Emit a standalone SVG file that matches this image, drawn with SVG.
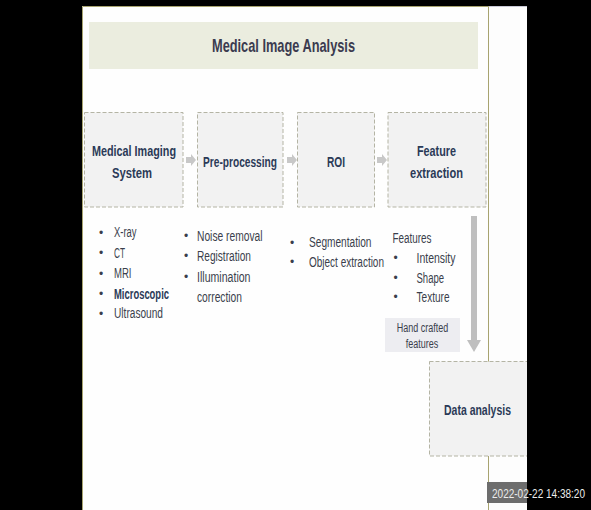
<svg xmlns="http://www.w3.org/2000/svg" width="591" height="510" viewBox="0 0 591 510">
<style>
.box{fill:#f2f2f2;stroke:#b4b4a4;stroke-width:1;stroke-dasharray:4 2}
.lbl{font-family:"Liberation Sans",Arial,sans-serif;font-weight:bold;font-size:15.5px;fill:#2b3a57;text-anchor:middle}
.txt{font-family:"Liberation Sans",Arial,sans-serif;font-size:14px;fill:#3a3e4c}
.bul{font-family:"Liberation Sans",Arial,sans-serif;font-size:12px;fill:#3a3e4c;text-anchor:middle}
.arr{fill:#c8c8c8}
</style>
<rect x="0" y="0" width="591" height="510" fill="#000"/>
<rect x="82" y="6" width="406" height="504" fill="#fefefe"/>
<rect x="488" y="6" width="39" height="504" fill="#fdfdfd"/>
<line x1="488" y1="6.5" x2="527" y2="6.5" stroke="#c9c9d6" stroke-width="1"/>
<path d="M82.5 510 V6.5 H488.5 V510" fill="none" stroke="#a8a470" stroke-width="1"/>

<g id="title">
<rect x="89" y="22" width="389" height="47" fill="#ebeddf"/>
<text x="283.5" y="52" style="font-family:'Liberation Sans',Arial,sans-serif;font-weight:bold;font-size:19px;fill:#3b3b4f" text-anchor="middle" textLength="143" lengthAdjust="spacingAndGlyphs">Medical Image Analysis</text>
</g>

<g id="connectors">
<path class="arr" d="M186 157 H191 V154 L196 160 L191 166 V163 H186 Z"/>
<path class="arr" d="M287 157 H292 V154 L297 160 L292 166 V163 H287 Z"/>
<path class="arr" d="M377 157 H382 V154 L387 160 L382 166 V163 H377 Z"/>
<path d="M471 216 H477 V340 H481 L474 352 L467 340 H471 Z" fill="#bfbfbf"/>
</g>

<g id="medical-imaging-system">
<rect class="box" x="84.5" y="112.5" width="98.5" height="94.5"/>
<text class="lbl" x="134" y="155.5" textLength="84" lengthAdjust="spacingAndGlyphs">Medical Imaging</text>
<text class="lbl" x="132" y="177.5" textLength="40" lengthAdjust="spacingAndGlyphs">System</text>
</g>

<g id="pre-processing">
<rect class="box" x="197.5" y="112.5" width="85.5" height="94.5"/>
<text class="lbl" x="240" y="166.5" textLength="74" lengthAdjust="spacingAndGlyphs">Pre-processing</text>
</g>

<g id="roi">
<rect class="box" x="297.5" y="112.5" width="77" height="94.5"/>
<text class="lbl" x="336" y="166.5" textLength="18" lengthAdjust="spacingAndGlyphs">ROI</text>
</g>

<g id="feature-extraction">
<rect class="box" x="388" y="112.5" width="98" height="94.5"/>
<text class="lbl" x="436.5" y="155.5" textLength="39" lengthAdjust="spacingAndGlyphs">Feature</text>
<text class="lbl" x="436.5" y="177.5" textLength="53" lengthAdjust="spacingAndGlyphs">extraction</text>
</g>

<g id="imaging-list">
<text class="bul" x="101" y="236.5">•</text>
<text class="txt" x="114" y="237" textLength="22.5" lengthAdjust="spacingAndGlyphs">X-ray</text>
<text class="bul" x="101" y="257">•</text>
<text class="txt" x="114" y="257.5" textLength="11" lengthAdjust="spacingAndGlyphs">CT</text>
<text class="bul" x="101" y="277.5">•</text>
<text class="txt" x="114" y="278" textLength="17.5" lengthAdjust="spacingAndGlyphs">MRI</text>
<text class="bul" x="101" y="298">•</text>
<text class="txt" x="114" y="298.5" textLength="55" lengthAdjust="spacingAndGlyphs" style="font-weight:bold;fill:#2b3a57">Microscopic</text>
<text class="bul" x="101" y="317.5">•</text>
<text class="txt" x="114" y="318" textLength="49" lengthAdjust="spacingAndGlyphs">Ultrasound</text>
</g>

<g id="preprocessing-list">
<text class="bul" x="186" y="240">•</text>
<text class="txt" x="197" y="240.5" textLength="65.5" lengthAdjust="spacingAndGlyphs">Noise removal</text>
<text class="bul" x="186" y="260">•</text>
<text class="txt" x="197" y="260.5" textLength="54" lengthAdjust="spacingAndGlyphs">Registration</text>
<text class="bul" x="186" y="281">•</text>
<text class="txt" x="197" y="281.5" textLength="53.5" lengthAdjust="spacingAndGlyphs">Illumination</text>
<text class="txt" x="197" y="301.5" textLength="45" lengthAdjust="spacingAndGlyphs">correction</text>
</g>

<g id="roi-list">
<text class="bul" x="292" y="246.5">•</text>
<text class="txt" x="309" y="247" textLength="62.5" lengthAdjust="spacingAndGlyphs">Segmentation</text>
<text class="bul" x="292" y="266">•</text>
<text class="txt" x="309" y="266.5" textLength="75" lengthAdjust="spacingAndGlyphs">Object extraction</text>
</g>

<g id="features-list">
<text class="txt" x="392.5" y="242.5" textLength="39" lengthAdjust="spacingAndGlyphs">Features</text>
<text class="bul" x="395.5" y="262">•</text>
<text class="txt" x="416.5" y="262.5" textLength="39" lengthAdjust="spacingAndGlyphs">Intensity</text>
<text class="bul" x="395.5" y="282">•</text>
<text class="txt" x="416.5" y="282.5" textLength="27.5" lengthAdjust="spacingAndGlyphs">Shape</text>
<text class="bul" x="395.5" y="301">•</text>
<text class="txt" x="416.5" y="301.5" textLength="33" lengthAdjust="spacingAndGlyphs">Texture</text>
</g>

<g id="hand-crafted-features">
<rect x="385" y="318" width="75" height="34" fill="#ededf1"/>
<text class="txt" x="422.5" y="331.5" text-anchor="middle" style="font-size:12.5px" textLength="51.5" lengthAdjust="spacingAndGlyphs">Hand crafted</text>
<text class="txt" x="422" y="347.5" text-anchor="middle" style="font-size:12.5px" textLength="32.5" lengthAdjust="spacingAndGlyphs">features</text>
</g>

<g id="data-analysis">
<rect class="box" x="429.5" y="361.5" width="102" height="94.5"/>
<text class="lbl" x="477.5" y="415" textLength="67" lengthAdjust="spacingAndGlyphs">Data analysis</text>
</g>

<rect x="527" y="0" width="64" height="510" fill="#000"/>
<rect x="82" y="0" width="445" height="6" fill="#000"/>

<g id="timestamp">
<rect x="487" y="482" width="40" height="21" fill="#6d6d6d"/>
<text x="492" y="498" style="font-family:'Liberation Sans',Arial,sans-serif;font-size:13px;fill:#ececec" textLength="93" lengthAdjust="spacingAndGlyphs">2022-02-22 14:38:20</text>
</g>
</svg>
